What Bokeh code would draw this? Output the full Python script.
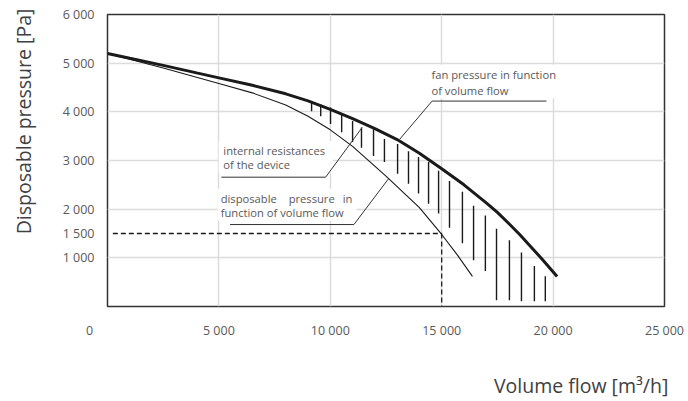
from bokeh.plotting import figure
from bokeh.models import Range1d, FixedTicker, Label, BoxAnnotation
from bokeh.embed import file_html
from bokeh.resources import INLINE

# ---------------- data ----------------
fan_flow = [0, 1000, 2500, 4000, 5000, 6500, 8000, 9000, 10000, 11000, 12000, 13000,
            14000, 15000, 16000, 17000, 17500, 18000, 18500, 19000, 19500, 20180]
fan_pressure = [5200, 5100, 4955, 4800, 4698, 4545, 4370, 4225, 4050, 3860, 3655, 3430,
                3150, 2830, 2500, 2130, 1935, 1710, 1480, 1230, 975, 616]

disp_flow = [0, 2500, 5000, 6500, 8000, 9000, 10000, 11000, 12500, 14000, 15000, 15700, 16380]
disp_pressure = [5200, 4900, 4582, 4390, 4140, 3910, 3630, 3290, 2680, 2030, 1480, 1060, 620]

hatch_flow = [9160, 9570, 10010, 10510, 11000, 11400, 11940, 12430, 13020, 13510,
              13960, 14410, 14860, 15350, 15930, 16430, 16960, 17460, 18040, 18580,
              19160, 19650]
hatch_top = [4190, 4150, 4090, 3950, 3810, 3680, 3640, 3440, 3340, 3190,
             3070, 2970, 2790, 2580, 2360, 2070, 1870, 1600, 1360, 1110,
             830, 620]
hatch_bottom = [4010, 3910, 3750, 3580, 3380, 3260, 3090, 2970, 2730, 2520,
                2320, 2110, 1910, 1620, 1300, 950, 730, 130, 130, 110,
                110, 110]

op_flow = 15000
op_pressure = 1500

x_ticks = [5000, 10000, 15000, 20000, 25000]
x_tick_labels = ["5 000", "10 000", "15 000", "20 000", "25 000"]
y_ticks = [1000, 2000, 3000, 4000, 5000, 6000]
y_tick_labels = ["1 000", "2 000", "3 000", "4 000", "5 000", "6 000"]
origin_label = "0"
op_label = "1 500"
x_title = "Volume flow [m³/h]"
y_title = "Disposable pressure [Pa]"

FONT = "Open Sans"
TICK_COLOR = "#595959"
NOTE_COLOR = "#595959"
TITLE_COLOR = "#404040"
INK = "#1a1a1a"
FIG_SPACE = "\u2007"

p = figure(width=688, height=401, output_backend="svg", toolbar_location=None,
           x_range=Range1d(0, 25000), y_range=Range1d(0, 6000))
p.min_border_left = 107
p.min_border_right = 24
p.min_border_top = 14
p.min_border_bottom = 93
p.background_fill_color = "white"
p.border_fill_color = "white"
p.outline_line_color = "#333333"
p.outline_line_width = 1.5

ax_x = p.xaxis[0]
ax_y = p.yaxis[0]
for ax in (ax_x, ax_y):
    ax.axis_line_color = None
    ax.major_tick_line_color = None
    ax.minor_tick_line_color = None
    ax.major_tick_out = 0
    ax.major_tick_in = 0
    ax.major_label_text_font = FONT
    ax.major_label_text_font_size = "12.5px"
    ax.major_label_text_color = TICK_COLOR
    ax.axis_label_text_font = FONT
    ax.axis_label_text_font_size = "19.5px"
    ax.axis_label_text_font_style = "normal"
    ax.axis_label_text_color = TITLE_COLOR
    ax.axis_label_align = "center"

xa_ticks = [0] + x_ticks
xa_labels = {0: origin_label + FIG_SPACE * 5}
xa_labels.update({t: l for t, l in zip(x_ticks, x_tick_labels)})
ax_x.ticker = FixedTicker(ticks=xa_ticks)
ax_x.major_label_overrides = xa_labels
ax_x.major_label_standoff = 15
# titles are centred on the frame; leading figure spaces push the words toward the axis end
ax_x.axis_label = FIG_SPACE * 35 + x_title
ax_x.axis_label_standoff = 30

ya_ticks = sorted(y_ticks + [op_pressure])
ya_labels = {t: l for t, l in zip(y_ticks, y_tick_labels)}
ya_labels[op_pressure] = op_label
ax_y.ticker = FixedTicker(ticks=ya_ticks)
ax_y.major_label_overrides = ya_labels
ax_y.major_label_standoff = 13
ax_y.axis_label = FIG_SPACE * 7 + y_title
ax_y.axis_label_standoff = 23

# grid
p.xgrid[0].ticker = FixedTicker(ticks=x_ticks)
p.ygrid[0].ticker = FixedTicker(ticks=y_ticks)
for g in (p.xgrid[0], p.ygrid[0]):
    g.grid_line_color = "#dcdcdc"
    g.grid_line_width = 1.5

# white boxes behind the notes (hide the grid)
for l, r, b, t in [(14360, 20330, 4280, 4970),
                   (4990, 10110, 2750, 3400),
                   (4950, 11180, 1765, 2420)]:
    p.add_layout(BoxAnnotation(left=l, right=r, bottom=b, top=t, fill_color="white",
                               fill_alpha=1, line_color=None, level="underlay"))

# hatch
p.segment(x0=hatch_flow, y0=hatch_top, x1=hatch_flow, y1=hatch_bottom,
          line_color=INK, line_width=1.4)

# curves
p.line(disp_flow, disp_pressure, line_color=INK, line_width=1.1)
p.line(fan_flow, fan_pressure, line_color=INK, line_width=3)

# operating point dashes
p.line([240, op_flow], [op_pressure, op_pressure], line_color=INK, line_width=1.3,
       line_dash="5 3")
p.line([op_flow, op_flow], [op_pressure, -200], line_color=INK, line_width=1.3,
       line_dash="5 3")

# leader + underline lines of the notes
p.line([19700, 14570, 13120], [4221, 4221, 3439], line_color="#333333", line_width=1)
p.line([5110, 9790, 11430], [2657, 2657, 3678], line_color="#333333", line_width=1)
p.line([5500, 11060, 12610], [1684, 1684, 2623], line_color="#333333", line_width=1)

def note(x, y, text, align="left", size="11.2px", color=NOTE_COLOR):
    p.add_layout(Label(x=x, y=y, text=text, text_font=FONT, text_font_size=size,
                       text_color=color, text_align=align, text_baseline="middle"))

note(14540, 4766, "fan pressure in function")
note(14540, 4445, "of volume flow")
note(5200, 3200, "internal resistances")
note(5200, 2908, "of the device")
note(5080, 2229, "disposable")
note(8130, 2229, "pressure")
note(10990, 2229, "in", align="right")
note(5080, 1923, "function of volume flow")

open("out.html", "w").write(file_html(p, INLINE))
